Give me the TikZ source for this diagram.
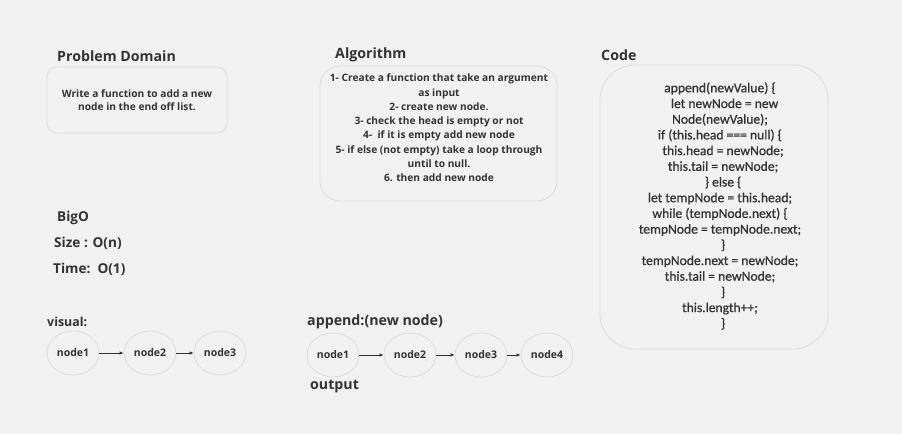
\documentclass[tikz,border=0pt]{standalone}
\usepackage{fontspec}
\setmainfont{Open Sans}
\newfontfamily\semifont{Open Sans}
\newfontfamily\codefont[FakeBold=0.8]{Carlito}
\usetikzlibrary{arrows.meta,shapes.geometric}
\definecolor{bgray}{HTML}{F2F2F2}
\definecolor{lgray}{HTML}{DCDCDC}
\definecolor{tgray}{HTML}{333333}
\tikzset{
  title/.style={anchor=west,text=tgray,font=\semifont\bfseries\fontsize{14.2}{16}\selectfont,inner sep=0pt},
  panel/.style={draw=lgray,line width=0.8pt},
  listnode/.style={ellipse,draw=lgray,line width=0.8pt,minimum width=52pt,minimum height=44pt,inner sep=0pt,
    text=tgray,font=\bfseries\fontsize{10.5}{12}\selectfont},
  link/.style={-{Latex[length=4pt,width=3.5pt]},line width=0.9pt,draw=tgray}
}
\begin{document}
\begin{tikzpicture}[x=1pt,y=-1pt]
\useasboundingbox[fill=bgray] (0,0) rectangle (902,434);
% titles
\node[title] (tprob) at (57,56) {Problem Domain};
\node[title] (talg) at (335,55) {Algorithm};
\node[title] (tcode) at (601,55) {Code};
% panels
\draw[panel,rounded corners=10pt] (47,67) rectangle (227,133);
\draw[panel,rounded corners=20pt] (320,66) rectangle (557,201);
\draw[panel,rounded corners=35pt] (600,65) rectangle (828,349);
\node[align=center,text=tgray,font=\bfseries\fontsize{10.2}{13}\selectfont] (prob) at (137,100)
  {Write a function to add a new\\node in the end off list.};
\node[align=center,text=tgray,font=\bfseries\fontsize{10.2}{14.3}\selectfont] (alg) at (439,128)
  {1- Create a function that take an argument\\as input\\2- create new node.\\3- check the head is empty or not\\4-\ \ if it is empty add new node\\5- if else (not empty) take a loop through\\until to null.\\6. then add new node};
\node[align=center,text=tgray,font=\codefont\fontsize{13.6}{15.7}\selectfont] (code) at (720,206)
  {append(newValue) \{\\\ \ \ let newNode = new\\Node(newValue);\\if (this.head === null) \{\\\ \ this.head = newNode;\\\ \ this.tail = newNode;\\\ \ \} else \{\\let tempNode = this.head;\\while (tempNode.next) \{\\tempNode = tempNode.next;\\\ \ \}\\tempNode.next = newNode;\\this.tail = newNode;\\\ \ \}\\this.length++;\\\ \ \}};
% BigO
\node[title,font=\semifont\bfseries\fontsize{13.6}{15}\selectfont] (bigo) at (57,218) {BigO};
\node[title,font=\semifont\bfseries\fontsize{13.6}{15}\selectfont] (size) at (54,243) {Size : O(n)};
\node[title,font=\semifont\bfseries\fontsize{13.6}{15}\selectfont] (time) at (53,269) {Time:\ \ O(1)};
% visual
\node[title,font=\semifont\bfseries\fontsize{12.4}{15}\selectfont] (tvis) at (47,322) {visual:};
\node[listnode] (v1) at (73,353) {node1};
\node[listnode] (v2) at (150,353) {node2};
\node[listnode] (v3) at (220,353) {node3};
\draw[link] (v1) -- (v2);
\draw[link] (v2) -- (v3);
% append
\node[title] (tapp) at (307,322) {append:(new node)};
\node[listnode] (a1) at (333,355) {node1};
\node[listnode] (a2) at (410,355) {node2};
\node[listnode] (a3) at (481,355) {node3};
\node[listnode] (a4) at (547,355) {node4};
\draw[link] (a1) -- (a2);
\draw[link] (a2) -- (a3);
\draw[link] (a3) -- (a4);
\node[title] (tout) at (310,386) {output};
\end{tikzpicture}
\end{document}
